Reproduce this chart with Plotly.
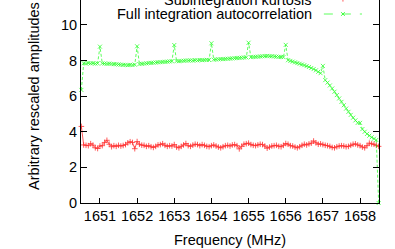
"""
Subintegration kurtosis vs full integration autocorrelation across the band.
"""

import plotly.graph_objects as go

# Channel centre frequencies (MHz)
freq_mhz = [
    1650.5, 1650.5625, 1650.625, 1650.6875, 1650.75, 1650.8125, 1650.875, 1650.9375,
    1651.0, 1651.0625, 1651.125, 1651.1875, 1651.25, 1651.3125, 1651.375, 1651.4375,
    1651.5, 1651.5625, 1651.625, 1651.6875, 1651.75, 1651.8125, 1651.875, 1651.9375,
    1652.0, 1652.0625, 1652.125, 1652.1875, 1652.25, 1652.3125, 1652.375, 1652.4375,
    1652.5, 1652.5625, 1652.625, 1652.6875, 1652.75, 1652.8125, 1652.875, 1652.9375,
    1653.0, 1653.0625, 1653.125, 1653.1875, 1653.25, 1653.3125, 1653.375, 1653.4375,
    1653.5, 1653.5625, 1653.625, 1653.6875, 1653.75, 1653.8125, 1653.875, 1653.9375,
    1654.0, 1654.0625, 1654.125, 1654.1875, 1654.25, 1654.3125, 1654.375, 1654.4375,
    1654.5, 1654.5625, 1654.625, 1654.6875, 1654.75, 1654.8125, 1654.875, 1654.9375,
    1655.0, 1655.0625, 1655.125, 1655.1875, 1655.25, 1655.3125, 1655.375, 1655.4375,
    1655.5, 1655.5625, 1655.625, 1655.6875, 1655.75, 1655.8125, 1655.875, 1655.9375,
    1656.0, 1656.0625, 1656.125, 1656.1875, 1656.25, 1656.3125, 1656.375, 1656.4375,
    1656.5, 1656.5625, 1656.625, 1656.6875, 1656.75, 1656.8125, 1656.875, 1656.9375,
    1657.0, 1657.0625, 1657.125, 1657.1875, 1657.25, 1657.3125, 1657.375, 1657.4375,
    1657.5, 1657.5625, 1657.625, 1657.6875, 1657.75, 1657.8125, 1657.875, 1657.9375,
    1658.0, 1658.0625, 1658.125, 1658.1875, 1658.25, 1658.3125, 1658.375, 1658.4375,
    1658.5,
]

# Subintegration kurtosis (rescaled)
kurtosis = [
    4.30, 3.26, 3.24, 3.22, 3.33, 3.25, 3.10, 3.06,
    3.20, 3.22, 3.40, 3.52, 3.30, 3.16, 3.22, 3.18,
    3.24, 3.20, 3.23, 3.28, 3.38, 3.44, 3.40, 3.05,
    3.45, 3.30, 3.25, 3.24, 3.18, 3.22, 3.16, 3.12,
    3.18, 3.26, 3.28, 3.33, 3.24, 3.18, 3.22, 3.20,
    3.28, 3.14, 3.10, 3.18, 3.26, 3.34, 3.22, 3.18,
    3.25, 3.30, 3.28, 3.22, 3.28, 3.24, 3.18, 3.16,
    3.22, 3.26, 3.20, 3.14, 3.10, 3.16, 3.22, 3.24,
    3.20, 3.26, 3.28, 3.22, 3.04, 3.18, 3.30, 3.33,
    3.36, 3.28, 3.24, 3.22, 3.26, 3.30, 3.28, 3.20,
    3.08, 3.14, 3.20, 3.22, 3.24, 3.18, 3.16, 3.24,
    3.34, 3.30, 3.22, 3.20, 3.14, 3.10, 3.16, 3.24,
    3.30, 3.26, 3.32, 3.36, 3.48, 3.38, 3.30, 3.32,
    3.28, 3.24, 3.22, 3.18, 3.12, 3.10, 3.16, 3.20,
    3.22, 3.20, 3.16, 3.18, 3.24, 3.30, 3.32, 3.26,
    3.22, 3.14, 3.10, 3.22, 3.36, 3.32, 3.30, 3.24,
    3.18,
]

# Full integration autocorrelation (rescaled)
autocorr = [
    6.35, 7.85, 7.83, 7.86, 7.84, 7.85, 7.83, 7.84,
    8.78, 7.84, 7.83, 7.82, 7.83, 7.81, 7.80, 7.79,
    7.78, 7.77, 7.76, 7.75, 7.74, 7.76, 7.75, 7.77,
    8.80, 7.80, 7.82, 7.83, 7.84, 7.86, 7.87, 7.88,
    7.89, 7.90, 7.91, 7.92, 7.93, 7.94, 7.95, 7.96,
    8.87, 7.97, 7.96, 7.98, 7.99, 8.00, 8.00, 8.01,
    8.00, 8.02, 8.01, 8.03, 8.02, 8.03, 8.04, 8.03,
    8.97, 8.05, 8.06, 8.07, 8.08, 8.08, 8.09, 8.10,
    8.11, 8.12, 8.13, 8.14, 8.15, 8.16, 8.17, 8.18,
    9.00, 8.19, 8.20, 8.21, 8.22, 8.23, 8.24, 8.25,
    8.26, 8.25, 8.24, 8.23, 8.22, 8.21, 8.20, 8.19,
    8.88, 8.02, 7.98, 7.94, 7.90, 7.86, 7.82, 7.78,
    7.74, 7.69, 7.64, 7.58, 7.52, 7.45, 7.37, 7.29,
    7.70, 6.90, 6.76, 6.60, 6.43, 6.25, 6.06, 5.87,
    5.68, 5.49, 5.30, 5.12, 4.95, 4.79, 4.64, 4.50,
    4.50, 4.15, 4.00, 3.88, 3.78, 3.69, 3.61, 3.54,
    0.00,
]

x_ticks = [1651, 1652, 1653, 1654, 1655, 1656, 1657, 1658]
y_ticks = [0, 2, 4, 6, 8, 10]

FONT = "Liberation Sans, Arial, sans-serif"
FONT_SIZE = 14.5
RED = "#ff0000"
GREEN = "#00ff00"

fig = go.Figure()

fig.add_trace(go.Scatter(
    x=freq_mhz, y=kurtosis,
    mode="lines+markers",
    name="Subintegration kurtosis",
    line=dict(color=RED, width=0.8),
    marker=dict(symbol="cross-thin", size=4, line=dict(color=RED, width=0.8)),
    opacity=0.8,
    cliponaxis=False,
))

fig.add_trace(go.Scatter(
    x=freq_mhz, y=autocorr,
    mode="lines+markers",
    name="Full integration autocorrelation",
    line=dict(color=GREEN, width=0.8, dash="3px,2px"),
    marker=dict(symbol="x-thin", size=4, line=dict(color=GREEN, width=0.8)),
    opacity=0.8,
    cliponaxis=False,
))

# gnuplot-style key: text on the left, sample on the right
legend_rows = [
    ("Subintegration kurtosis", RED, 1.002, "solid"),
    ("Full integration autocorrelation", GREEN, 0.931, "dash"),
]
for label, color, y, dash in legend_rows:
    fig.add_annotation(
        text=label, xref="paper", yref="paper", x=0.782, y=y,
        xanchor="right", yanchor="middle", showarrow=False,
        font=dict(family=FONT, size=FONT_SIZE, color="black"),
    )
    fig.add_shape(type="line", xref="paper", yref="paper",
                  x0=0.815, x1=0.943, y0=y, y1=y,
                  line=dict(color=color, width=0.8, dash=dash), opacity=0.8)
    dx, dy = 0.0067, 0.0099
    if dash == "solid":
        fig.add_shape(type="line", xref="paper", yref="paper",
                      x0=0.879, x1=0.879, y0=y - dy, y1=y + dy,
                      line=dict(color=color, width=0.8), opacity=0.8)
    else:
        fig.add_shape(type="line", xref="paper", yref="paper",
                      x0=0.879 - dx, x1=0.879 + dx, y0=y - dy, y1=y + dy,
                      line=dict(color=color, width=0.8), opacity=0.8)
        fig.add_shape(type="line", xref="paper", yref="paper",
                      x0=0.879 - dx, x1=0.879 + dx, y0=y + dy, y1=y - dy,
                      line=dict(color=color, width=0.8), opacity=0.8)

# axis titles
fig.add_annotation(
    text="Frequency (MHz)", xref="paper", yref="paper", x=0.5, y=-0.182,
    xanchor="center", yanchor="middle", showarrow=False,
    font=dict(family=FONT, size=FONT_SIZE, color="black"),
)
fig.add_annotation(
    text="Arbitrary rescaled amplitudes", xref="paper", yref="paper",
    x=-0.158, y=0.527, textangle=-90,
    xanchor="center", yanchor="middle", showarrow=False,
    font=dict(family=FONT, size=FONT_SIZE, color="black"),
)

fig.update_layout(
    width=395, height=249,
    margin=dict(l=81, r=16, t=0, b=46),
    paper_bgcolor="white", plot_bgcolor="white",
    showlegend=False,
    font=dict(family=FONT, size=FONT_SIZE, color="black"),
    xaxis=dict(
        range=[1650.49, 1658.51], tickvals=x_ticks,
        ticks="inside", ticklen=5, tickcolor="black",
        showline=True, linecolor="black", linewidth=1,
        showgrid=False, zeroline=False, mirror=False,
    ),
    yaxis=dict(
        range=[0, 11.4], tickvals=y_ticks,
        ticks="inside", ticklen=6, tickcolor="black",
        showline=True, linecolor="black", linewidth=1,
        showgrid=False, zeroline=False, mirror="ticks",
    ),
)

# page body has a default 8px margin; drop it so the figure sits at the corner
fig.write_html(
    "out.html",
    config={"displayModeBar": False},
    post_script="document.body.style.margin = '0';",
)
